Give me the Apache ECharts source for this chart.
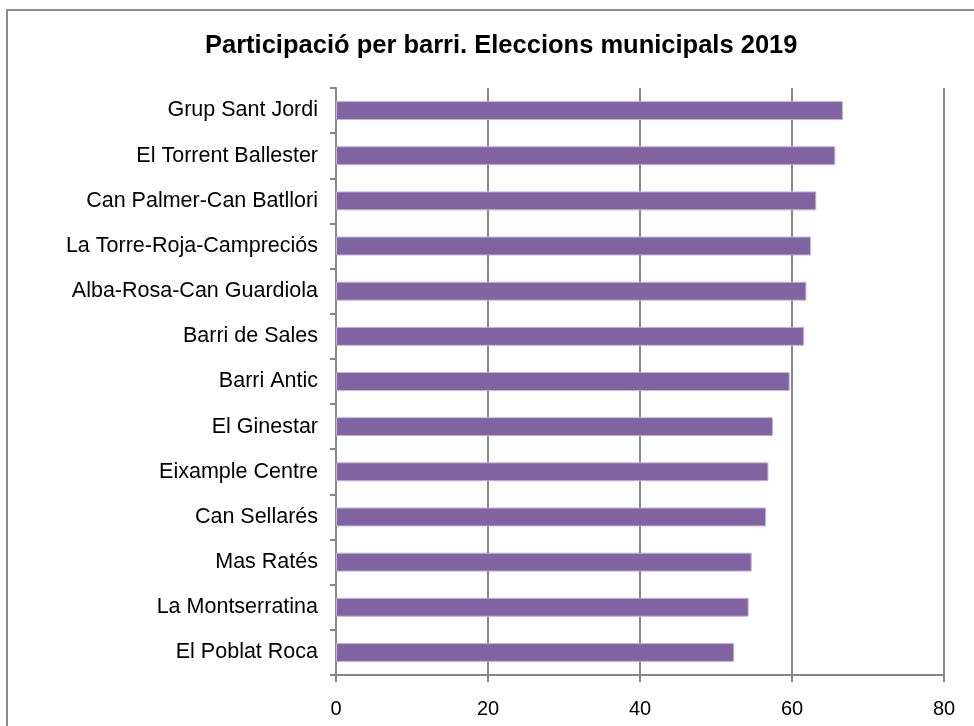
<!DOCTYPE html>
<html>
<head>
<meta charset="utf-8">
<script src="https://cdn.jsdelivr.net/npm/echarts@6/dist/echarts.min.js"></script>
<style>
  html, body { margin: 0; padding: 0; background: #fff; }
  #chart { width: 974px; height: 726px; }
</style>
</head>
<body>
<div id="chart"></div>
<script>
// barris, de baix a dalt (ordre de l'eix de categories)
var barris = [
  "El Poblat Roca",
  "La Montserratina",
  "Mas Ratés",
  "Can Sellarés",
  "Eixample Centre",
  "El Ginestar",
  "Barri Antic",
  "Barri de Sales",
  "Alba-Rosa-Can Guardiola",
  "La Torre-Roja-Campreciós",
  "Can Palmer-Can Batllori",
  "El Torrent Ballester",
  "Grup Sant Jordi"
];
// participació (%)
var participacio = [52.4, 54.3, 54.7, 56.6, 56.9, 57.5, 59.7, 61.6, 61.9, 62.5, 63.2, 65.7, 66.7];
var ticksX = [0, 20, 40, 60, 80];

var myChart = echarts.init(document.getElementById("chart"));

var option = {
  animation: false,
  title: {
    text: "Participació per barri. Eleccions municipals 2019",
    left: 200,
    top: 28,
    textStyle: {
      fontFamily: "Liberation Sans",
      fontWeight: "bold",
      fontSize: 25.5,
      color: "#000"
    }
  },
  graphic: [
    {
      // marc del gràfic
      type: "rect",
      shape: { x: 7, y: 10, width: 990, height: 740 },
      style: { fill: "none", stroke: "#8c8c8c", lineWidth: 2 },
      silent: true
    }
  ],
  grid: {
    left: 336,
    right: 30,
    top: 88,
    bottom: 51
  },
  xAxis: {
    type: "value",
    min: ticksX[0],
    max: ticksX[ticksX.length - 1],
    interval: 20,
    axisLine: { show: true, lineStyle: { color: "#868686", width: 2 } },
    axisTick: { show: true, length: 7, lineStyle: { color: "#868686", width: 2 } },
    axisLabel: {
      color: "#000",
      fontFamily: "Liberation Sans",
      fontSize: 20,
      margin: 24
    },
    splitLine: { show: true, lineStyle: { color: "#868686", width: 2 } }
  },
  yAxis: {
    type: "category",
    data: barris,
    axisLine: { show: true, lineStyle: { color: "#868686", width: 2 } },
    axisTick: { show: true, length: 6, lineStyle: { color: "#868686", width: 2 } },
    axisLabel: {
      color: "#000",
      fontFamily: "Liberation Sans",
      fontSize: 21.5,
      margin: 18,
      padding: [3, 0, 0, 0]
    }
  },
  series: [
    {
      type: "bar",
      data: participacio,
      barCategoryGap: "58%",
      itemStyle: {
        color: "#8064A2",
        borderColor: "#c5b4d9",
        borderWidth: 1
      }
    }
  ]
};

myChart.setOption(option);
window.addEventListener("resize", function () {
  myChart.resize();
});
</script>
</body>
</html>
